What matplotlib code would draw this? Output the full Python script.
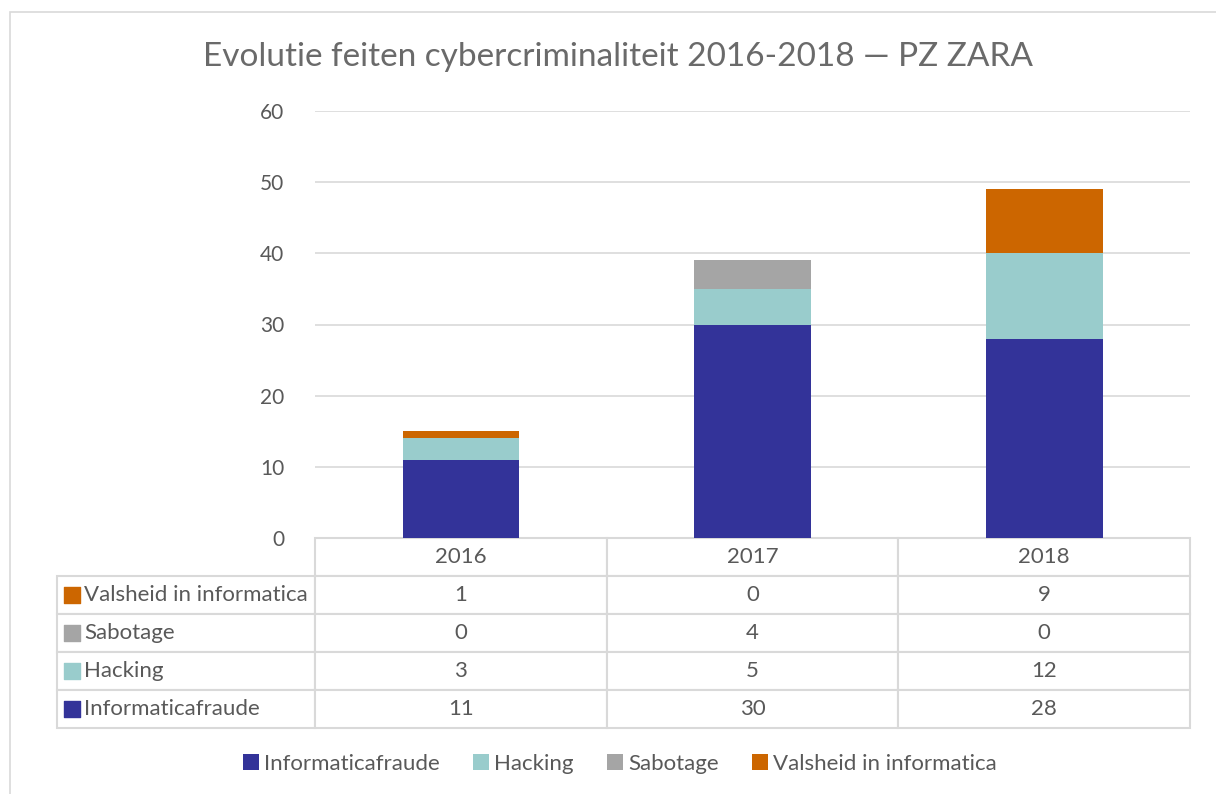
import numpy as np
import matplotlib
matplotlib.use('Agg')
import matplotlib.pyplot as plt
from matplotlib.table import Table
from matplotlib.patches import Rectangle

plt.rcParams['font.family'] = ['Lato', 'DejaVu Sans']

# data
years = ['2016', '2017', '2018']
series = ['Informaticafraude', 'Hacking', 'Sabotage', 'Valsheid in informatica']
informaticafraude = [11, 30, 28]
hacking = [3, 5, 12]
sabotage = [0, 4, 0]
valsheid = [1, 0, 9]
colors = ['#333399', '#99CCCC', '#A5A5A5', '#CC6600']

values = [informaticafraude, hacking, sabotage, valsheid]
txt = '#595959'
grid = '#D9D9D9'

fig = plt.figure(figsize=(12.16, 7.94), dpi=100)
fig.patches.append(Rectangle((10 / 1216, -0.1), 1.2, 1 - 12 / 794 + 0.1,
                             transform=fig.transFigure, fill=False,
                             edgecolor=grid, linewidth=1.2))

ax = fig.add_axes([315 / 1216, 1 - 538 / 794, 875 / 1216, 427 / 794])
x = np.arange(len(years))
bottom = np.zeros(len(years))
for name, vals, c in zip(series, values, colors):
    ax.bar(x, vals, 0.4, bottom=bottom, color=c, label=name, zorder=3)
    bottom += np.array(vals)

ax.set_xlim(-0.5, 2.5)
ax.set_ylim(0, 60)
ax.set_yticks(range(0, 61, 10))
ax.yaxis.grid(True, color=grid, linewidth=1.2, zorder=0)
ax.set_xticks([])
ax.tick_params(axis='y', length=0, pad=22, labelsize=15, labelcolor=txt)
for s in ax.spines.values():
    s.set_visible(False)

fig.text(0.508, 1 - 57 / 794, 'Evolutie feiten cybercriminaliteit 2016-2018 — PZ ZARA',
         ha='center', va='center', fontsize=24, color='#6a6a6a')

# data table
x0 = -(315 - 57) / 875
h = 190 / 427
tab = Table(ax, bbox=[x0, -h, 1 - x0, h])
wl, wd = 258, 875 / 3
rh = 1.0
for j, yr in enumerate(years):
    tab.add_cell(0, j + 1, wd, rh, text=yr, loc='center')
rows = list(zip(series, values))[::-1]
for i, (name, vals) in enumerate(rows):
    tab.add_cell(i + 1, 0, wl, rh, text=name, loc='left')
    for j, v in enumerate(vals):
        tab.add_cell(i + 1, j + 1, wd, rh, text=str(v), loc='center')
tab.auto_set_font_size(False)
for (r, c), cell in tab.get_celld().items():
    cell.set_edgecolor(grid)
    cell.set_linewidth(1.5)
    cell.get_text().set_color(txt)
    cell.get_text().set_fontsize(16)
    cell.PAD = 0.105 if c == 0 else 0.02
ax.add_table(tab)

# colour keys in table row labels
row_cols = colors[::-1]
for i, c in enumerate(row_cols):
    yc = -h + h * (3.5 - i) / 5
    ax.scatter([x0 + 15 / 875], [yc], marker='s', s=130, color=c,
               transform=ax.transAxes, clip_on=False, zorder=5)

handles, labels = ax.get_legend_handles_labels()
leg = fig.legend(handles, labels, loc='center', bbox_to_anchor=(0.51, 1 - 764 / 794),
                 ncol=4, frameon=False, fontsize=16, handlelength=0.7, handleheight=0.7,
                 handletextpad=0.25, columnspacing=1.5)
for t in leg.get_texts():
    t.set_color(txt)

fig.savefig('out.png', dpi=100)
